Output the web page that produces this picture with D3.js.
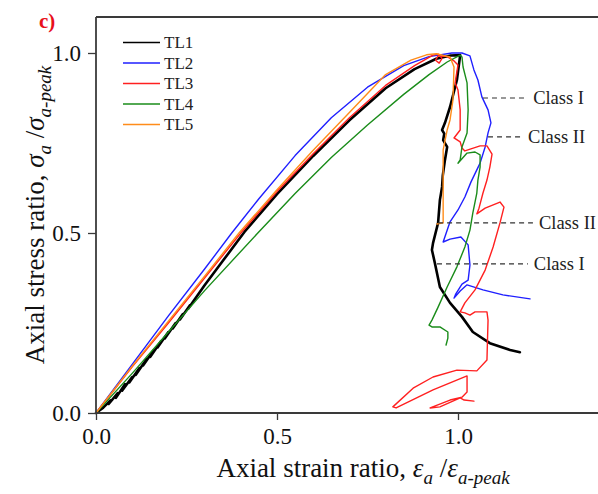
<!DOCTYPE html>
<html>
<head>
<meta charset="utf-8">
<script src="https://cdn.jsdelivr.net/npm/d3@7"></script>
<style>
html,body{margin:0;padding:0;background:#fff;}
svg{display:block;}
text{font-family:"Liberation Serif","Times New Roman",serif;}
</style>
</head>
<body>
<svg id="chart" width="598" height="494"></svg>
<script>
// ---------------- data ----------------
const seriesNames = ["TL1", "TL2", "TL3", "TL4", "TL5"];
const xTicks = [0, 0.5, 1.0];
const yTicks = [0, 0.5, 1.0];

// TL1 (black)
const tl1 = [[0,0],[0.02,0.015],[0.04,0.035],[0.035,0.025],[0.06,0.055],[0.055,0.042],[0.08,0.08],[0.072,0.062],
  [0.1,0.1],[0.092,0.085],[0.12,0.125],[0.11,0.106],[0.14,0.15],[0.13,0.132],[0.16,0.175],[0.15,0.156],
  [0.18,0.2],[0.17,0.182],[0.2,0.225],[0.19,0.207],[0.22,0.25],[0.212,0.235],[0.24,0.275],[0.232,0.26],
  [0.26,0.3],[0.255,0.29],[0.3,0.355],[0.35,0.422],[0.41,0.503],[0.5,0.608],[0.6,0.714],[0.7,0.813],
  [0.8,0.902],[0.88,0.955],[0.94,0.984],[0.98,0.993],[1.006,0.994],
  [0.997,0.925],[0.978,0.85],[0.964,0.806],[0.956,0.786],[0.962,0.776],[0.959,0.758],[0.97,0.739],
  [0.964,0.703],[0.958,0.66],[0.956,0.628],[0.95,0.592],[0.945,0.528],[0.931,0.472],[0.928,0.453],
  [0.936,0.417],[0.95,0.35],[0.978,0.306],[1.011,0.267],[1.041,0.225],[1.088,0.194],[1.144,0.175],[1.171,0.169]];

// TL2 (blue)
const tl2 = [[0,0],[0.1,0.135],[0.2,0.27],[0.3,0.4],[0.375,0.5],[0.45,0.595],[0.55,0.715],[0.65,0.82],
  [0.75,0.905],[0.85,0.965],[0.92,0.99],[0.983,1.0],[1.011,1.0],[1.033,0.992],[1.044,0.953],[1.055,0.925],
  [1.066,0.878],[1.083,0.842],[1.091,0.806],[1.083,0.778],[1.075,0.739],[1.061,0.694],[1.036,0.642],
  [1.019,0.6],[1.0,0.564],[0.978,0.531],[0.959,0.475],[0.978,0.483],[1.008,0.489],[1.028,0.467],
  [1.033,0.411],[1.028,0.369],[1.011,0.358],[0.994,0.331],[0.989,0.319],[1.006,0.339],[1.025,0.356],
  [1.069,0.342],[1.124,0.328],[1.199,0.317]];

// TL3 (red)
const tl3 = [[0,0],[0.1,0.128],[0.2,0.25],[0.3,0.375],[0.4,0.5],[0.5,0.615],[0.6,0.72],[0.7,0.82],
  [0.8,0.91],[0.88,0.965],[0.931,0.994],[0.945,0.997],[0.956,0.985],[0.948,0.972],[0.938,0.98],
  [0.945,0.992],[0.97,0.99],[0.989,0.978],[1.0,0.967],[0.992,0.917],[1.0,0.897],[1.006,0.842],
  [1.006,0.786],[0.989,0.764],[1.006,0.753],[1.011,0.736],[1.019,0.728],[1.061,0.742],[1.08,0.742],
  [1.094,0.719],[1.088,0.683],[1.08,0.647],[1.069,0.611],[1.058,0.569],[1.052,0.553],[1.075,0.569],
  [1.116,0.586],[1.127,0.572],[1.116,0.528],[1.097,0.461],[1.075,0.397],[1.047,0.342],[1.019,0.306],
  [1.006,0.281],[1.019,0.278],[1.033,0.272],[1.047,0.281],[1.08,0.281],[1.083,0.258],[1.08,0.147],
  [1.052,0.117],[0.997,0.119],[0.931,0.1],[0.876,0.069],[0.82,0.017],[0.829,0.014],[0.931,0.064],
  [1.025,0.103],[1.025,0.058],[1.011,0.044],[0.978,0.036],[0.923,0.014],[0.95,0.017],[1.006,0.042],
  [1.017,0.036],[1.044,0.033]];

// TL4 (green)
const tl4 = [[0,0],[0.1,0.11],[0.2,0.225],[0.3,0.34],[0.447,0.5],[0.55,0.61],[0.65,0.71],[0.75,0.8],
  [0.85,0.885],[0.92,0.94],[0.97,0.975],[1.006,0.994],[1.011,0.989],[1.014,0.961],[1.025,0.917],
  [1.028,0.842],[1.025,0.778],[1.011,0.739],[1.006,0.703],[1.0,0.694],[1.025,0.722],[1.047,0.725],
  [1.061,0.717],[1.061,0.683],[1.055,0.647],[1.052,0.611],[1.041,0.556],[1.033,0.508],[1.019,0.461],
  [0.997,0.406],[0.97,0.35],[0.945,0.294],[0.928,0.258],[0.92,0.244],[0.928,0.239],[0.95,0.239],
  [0.972,0.225],[0.972,0.208],[0.967,0.189]];

// TL5 (orange)
const tl5 = [[0,0],[0.1,0.13],[0.2,0.255],[0.3,0.38],[0.395,0.5],[0.5,0.62],[0.6,0.73],[0.7,0.835],
  [0.8,0.94],[0.87,0.98],[0.913,0.995],[0.94,0.998],[0.978,0.989],[0.989,0.961],[0.986,0.869],
  [0.978,0.814],[0.97,0.786],[0.959,0.731],[0.959,0.703],[0.959,0.647],[0.959,0.528],[0.942,0.525]];

const allSeries = [tl1, tl2, tl3, tl4, tl5];
const seriesColors = ["#000000", "#1f1fff", "#ff2020", "#1a8c1a", "#ff8c1a"];

// class annotations (data coordinates)
const classLabels = ["Class I", "Class II", "Class II", "Class I"];
const classY = [0.875, 0.767, 0.528, 0.414];
const classX0 = [1.069, 1.083, 0.945, 0.942];
const classX1 = [1.191, 1.177, 1.207, 1.193];

// ---------------- drawing ----------------
const svg = d3.select("#chart");
const L = 96, T = 17, B = 413;
const x = d3.scaleLinear().domain([0, 1.4]).range([L, L + 1.4 * 362]);
const y = d3.scaleLinear().domain([0, 1.1]).range([B, T]);

const axisColor = "#3a3a3a";

// frame
svg.append("line").attr("x1", L).attr("x2", 610).attr("y1", y(1.1)).attr("y2", y(1.1))
  .attr("stroke", axisColor).attr("stroke-width", 1.8);

// series
const line = d3.line().x(d => x(d[0])).y(d => y(d[1]));
allSeries.forEach((s, i) => {
  svg.append("path").datum(s).attr("d", line).attr("fill", "none")
    .attr("stroke", seriesColors[i]).attr("stroke-width", i === 0 ? 2.6 : 1.4)
    .attr("stroke-linejoin", "round").attr("stroke-linecap", "round");
});

// axes
const xAxis = svg.append("g").attr("transform", `translate(0,${B})`)
  .call(d3.axisBottom(x).tickValues(xTicks).tickFormat(d3.format(".1f")).tickSize(7).tickPadding(8));
const yAxis = svg.append("g").attr("transform", `translate(${L},0)`)
  .call(d3.axisLeft(y).tickValues(yTicks).tickFormat(d3.format(".1f")).tickSize(8).tickPadding(7));
[xAxis, yAxis].forEach(a => {
  a.select(".domain").attr("stroke", axisColor).attr("stroke-width", 1.8);
  a.selectAll(".tick line").attr("stroke", axisColor).attr("stroke-width", 1.3);
  a.selectAll(".tick text").attr("font-family", "Liberation Serif").attr("font-size", 23).attr("fill", "#111");
});
xAxis.select(".domain").attr("d", `M${L},0H610`);
yAxis.select(".domain").attr("d", `M0,${B}V${T}`);

// class annotations
classLabels.forEach((lab, i) => {
  svg.append("line").attr("x1", x(classX0[i])).attr("x2", x(classX1[i]))
    .attr("y1", y(classY[i])).attr("y2", y(classY[i]))
    .attr("stroke", "#333").attr("stroke-width", 1.2).attr("stroke-dasharray", "5,4");
  svg.append("text").attr("x", x(classX1[i]) + 6).attr("y", y(classY[i]))
    .attr("dy", "0.35em").attr("font-size", 18.5).attr("fill", "#222").text(lab);
});

// legend
const lg = svg.append("g");
seriesNames.forEach((n, i) => {
  const yy = 42.5 + i * 20.5;
  lg.append("line").attr("x1", 123).attr("x2", 160).attr("y1", yy).attr("y2", yy)
    .attr("stroke", seriesColors[i]).attr("stroke-width", 1.4);
  lg.append("text").attr("x", 164).attr("y", yy).attr("dy", "0.35em")
    .attr("font-size", 17).attr("fill", "#222").text(n);
});

// panel label
svg.append("text").attr("x", 39).attr("y", 28).attr("font-size", 21).attr("font-weight", "bold")
  .attr("fill", "#e8101a").text("c)");

// x title
const xt = svg.append("text").attr("x", 363).attr("y", 477).attr("text-anchor", "middle")
  .attr("font-size", 27).attr("fill", "#111");
xt.append("tspan").text("Axial strain ratio, ");
xt.append("tspan").attr("font-style", "italic").text("ε");
xt.append("tspan").attr("font-style", "italic").attr("font-size", 19).attr("dy", 7).text("a");
xt.append("tspan").attr("dy", -7).text(" /");
xt.append("tspan").attr("font-style", "italic").text("ε");
xt.append("tspan").attr("font-style", "italic").attr("font-size", 19).attr("dy", 7).text("a-peak");

// y title
const yt = svg.append("text").attr("transform", "translate(44,215) rotate(-90)")
  .attr("text-anchor", "middle").attr("font-size", 27).attr("fill", "#111");
yt.append("tspan").text("Axial stress ratio, ");
yt.append("tspan").attr("font-style", "italic").text("σ");
yt.append("tspan").attr("font-style", "italic").attr("font-size", 19).attr("dy", 7).text("a");
yt.append("tspan").attr("dy", -7).text(" /");
yt.append("tspan").attr("font-style", "italic").text("σ");
yt.append("tspan").attr("font-style", "italic").attr("font-size", 19).attr("dy", 7).text("a-peak");
</script>
</body>
</html>
